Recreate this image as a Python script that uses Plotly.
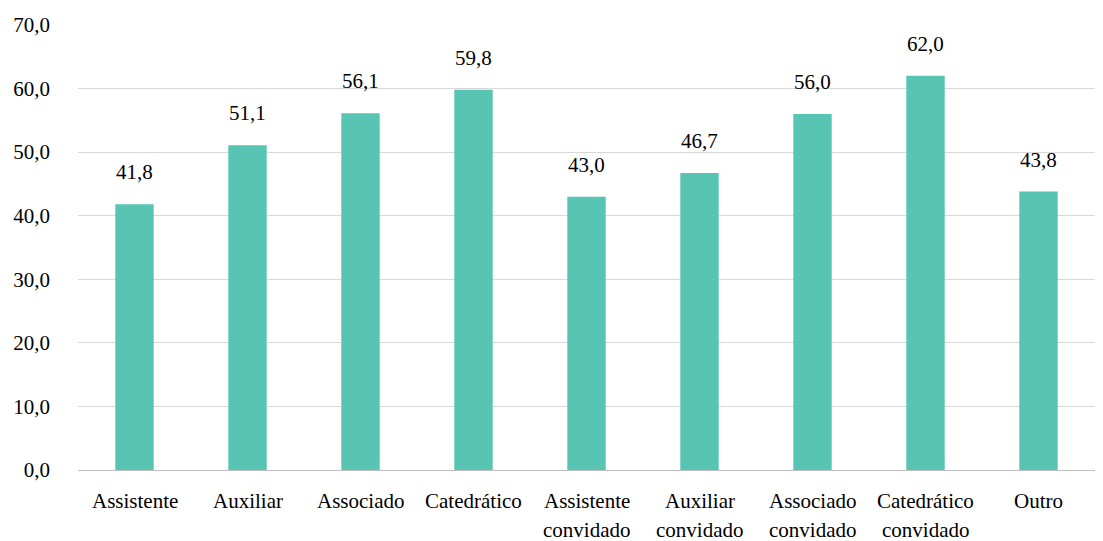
import plotly.graph_objects as go

categories = ["Assistente", "Auxiliar", "Associado", "Catedrático",
              "Assistente convidado", "Auxiliar convidado",
              "Associado convidado", "Catedrático convidado", "Outro"]
values = [41.8, 51.1, 56.1, 59.8, 43.0, 46.7, 56.0, 62.0, 43.8]
y_ticks = [0, 10, 20, 30, 40, 50, 60, 70]

FONT = "Liberation Serif, Times New Roman, serif"
BAR_COLOR = "#58C4B4"
TXT = dict(family=FONT, size=21, color="#000000")

fig = go.Figure()
fig.add_trace(go.Bar(
    x=categories,
    y=values,
    marker=dict(color=BAR_COLOR, line=dict(width=0)),
    width=0.34,
    hoverinfo="skip",
))

# value labels floating above each bar
for cat, v in zip(categories, values):
    fig.add_annotation(
        x=cat, y=v, text=f"{v:.1f}".replace(".", ","),
        showarrow=False, yshift=32, yanchor="middle", font=TXT,
    )

# category labels under the axis, split onto two lines where needed
for cat in categories:
    for i, line in enumerate(cat.split(" ")):
        fig.add_annotation(
            x=cat, xref="x", y=0, yref="paper", text=line,
            showarrow=False, yanchor="middle", yshift=-31 - 29 * i, font=TXT,
        )

fig.update_layout(
    width=1103, height=541,
    margin=dict(l=78, r=8, t=25, b=71),
    paper_bgcolor="white", plot_bgcolor="white",
    separators=",.",
    showlegend=False,
    font=TXT,
    xaxis=dict(
        showgrid=False, showline=True, linecolor="#BFBFBF", linewidth=1,
        ticks="", showticklabels=False,
    ),
    yaxis=dict(
        range=[0, 70], tickvals=y_ticks, tickformat=".1f",
        showgrid=True, gridcolor="#D9D9D9", gridwidth=1,
        zeroline=False, showline=False, ticks="",
        ticklabelstandoff=27, tickfont=TXT,
    ),
)

fig.write_html("out.html")
